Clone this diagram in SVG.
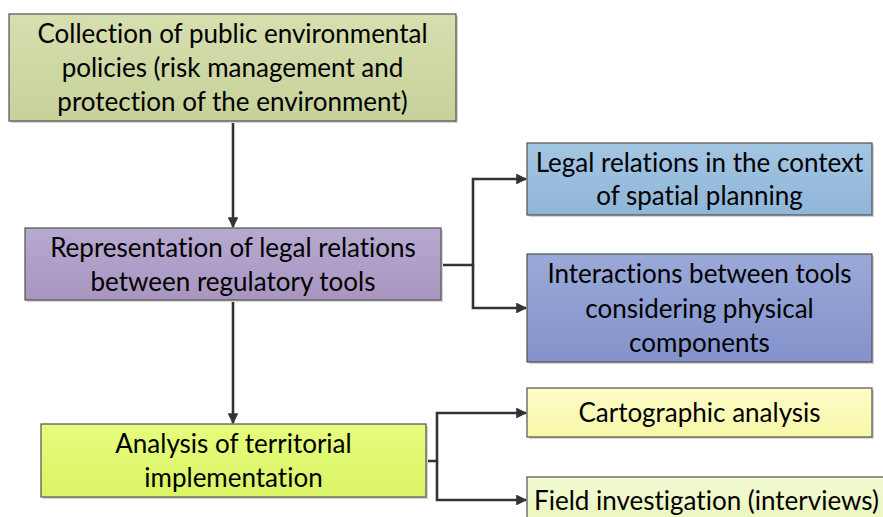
<svg xmlns="http://www.w3.org/2000/svg" width="883" height="517" viewBox="0 0 883 517">
  <style>
    .box { stroke: #505050; stroke-width: 1.2; }
    .shadow { fill: #d4d4d4; }
    .label { font-family: Lato, "Open Sans", sans-serif; font-size: 26px; fill: #000; text-anchor: middle; font-variant-ligatures: none; }
    .conn { fill: none; stroke: #333; stroke-width: 2.6; }
  </style>
  <defs>
    <marker id="arrow" viewBox="0 0 10 10" refX="9" refY="5" markerWidth="4.2" markerHeight="4.2" markerUnits="strokeWidth" orient="auto">
      <path d="M0,0 L10,5 L0,10 z" fill="#333"/>
    </marker>
    <linearGradient id="gOlive" x1="0" y1="0" x2="0" y2="1">
      <stop offset="0" stop-color="#d6dfae"/>
      <stop offset="1" stop-color="#c6d19a"/>
    </linearGradient>
    <linearGradient id="gPurple" x1="0" y1="0" x2="0" y2="1">
      <stop offset="0" stop-color="#b7a9cf"/>
      <stop offset="1" stop-color="#a896c1"/>
    </linearGradient>
    <linearGradient id="gLime" x1="0" y1="0" x2="0" y2="1">
      <stop offset="0" stop-color="#e6fc7c"/>
      <stop offset="1" stop-color="#daf466"/>
    </linearGradient>
    <linearGradient id="gSky" x1="0" y1="0" x2="0" y2="1">
      <stop offset="0" stop-color="#a3c6e2"/>
      <stop offset="1" stop-color="#8fb5d8"/>
    </linearGradient>
    <linearGradient id="gPeri" x1="0" y1="0" x2="0" y2="1">
      <stop offset="0" stop-color="#9aa9d8"/>
      <stop offset="1" stop-color="#8393cb"/>
    </linearGradient>
    <linearGradient id="gCream" x1="0" y1="0" x2="0" y2="1">
      <stop offset="0" stop-color="#fdfdc6"/>
      <stop offset="1" stop-color="#f8f8aa"/>
    </linearGradient>
    <linearGradient id="gMint" x1="0" y1="0" x2="0" y2="1">
      <stop offset="0" stop-color="#f2fad2"/>
      <stop offset="1" stop-color="#eaf6bc"/>
    </linearGradient>
  </defs>

  <!-- connectors -->
  <g id="connectors">
    <path class="conn" d="M233,121 V227" marker-end="url(#arrow)"/>
    <path class="conn" d="M233,300 V423" marker-end="url(#arrow)"/>
    <path class="conn" d="M441,265 H473 V179 H526" marker-end="url(#arrow)"/>
    <path class="conn" d="M473,265 V308 H526" marker-end="url(#arrow)"/>
    <path class="conn" d="M426,461 H437 V413 H526" marker-end="url(#arrow)"/>
    <path class="conn" d="M437,461 V500 H526" marker-end="url(#arrow)"/>
  </g>

  <g id="policies">
    <rect class="shadow" x="11" y="16" width="447" height="107"/>
    <rect class="box" x="9" y="14" width="447" height="107" fill="url(#gOlive)"/>
    <text class="label" x="232.5" y="43">Collection of public environmental</text>
    <text class="label" x="232.5" y="77">policies (risk management and</text>
    <text class="label" x="232.5" y="111">protection of the environment)</text>
  </g>

  <g id="legal-relations">
    <rect class="shadow" x="27" y="230" width="416" height="72"/>
    <rect class="box" x="25" y="228" width="416" height="72" fill="url(#gPurple)"/>
    <text class="label" x="233" y="257">Representation of legal relations</text>
    <text class="label" x="233" y="291">between regulatory tools</text>
  </g>

  <g id="territorial">
    <rect class="shadow" x="43" y="426" width="385" height="73"/>
    <rect class="box" x="41" y="424" width="385" height="73" fill="url(#gLime)"/>
    <text class="label" x="233.5" y="453">Analysis of territorial</text>
    <text class="label" x="233.5" y="487">implementation</text>
  </g>

  <g id="spatial-planning">
    <rect class="shadow" x="529" y="145" width="345" height="72"/>
    <rect class="box" x="527" y="143" width="345" height="72" fill="url(#gSky)"/>
    <text class="label" x="699.5" y="172">Legal relations in the context</text>
    <text class="label" x="699.5" y="205">of spatial planning</text>
  </g>

  <g id="physical-components">
    <rect class="shadow" x="529" y="256" width="345" height="108"/>
    <rect class="box" x="527" y="254" width="345" height="108" fill="url(#gPeri)"/>
    <text class="label" x="699.5" y="283">Interactions between tools</text>
    <text class="label" x="699.5" y="318">considering physical</text>
    <text class="label" x="699.5" y="352">components</text>
  </g>

  <g id="cartographic">
    <rect class="shadow" x="529" y="390" width="345" height="49"/>
    <rect class="box" x="527" y="388" width="345" height="49" fill="url(#gCream)"/>
    <text class="label" x="699.5" y="422">Cartographic analysis</text>
  </g>

  <g id="field-investigation">
    <rect class="box" x="527" y="477" width="370" height="50" fill="url(#gMint)"/>
    <text class="label" x="706.5" y="510">Field investigation (interviews)</text>
  </g>
</svg>
